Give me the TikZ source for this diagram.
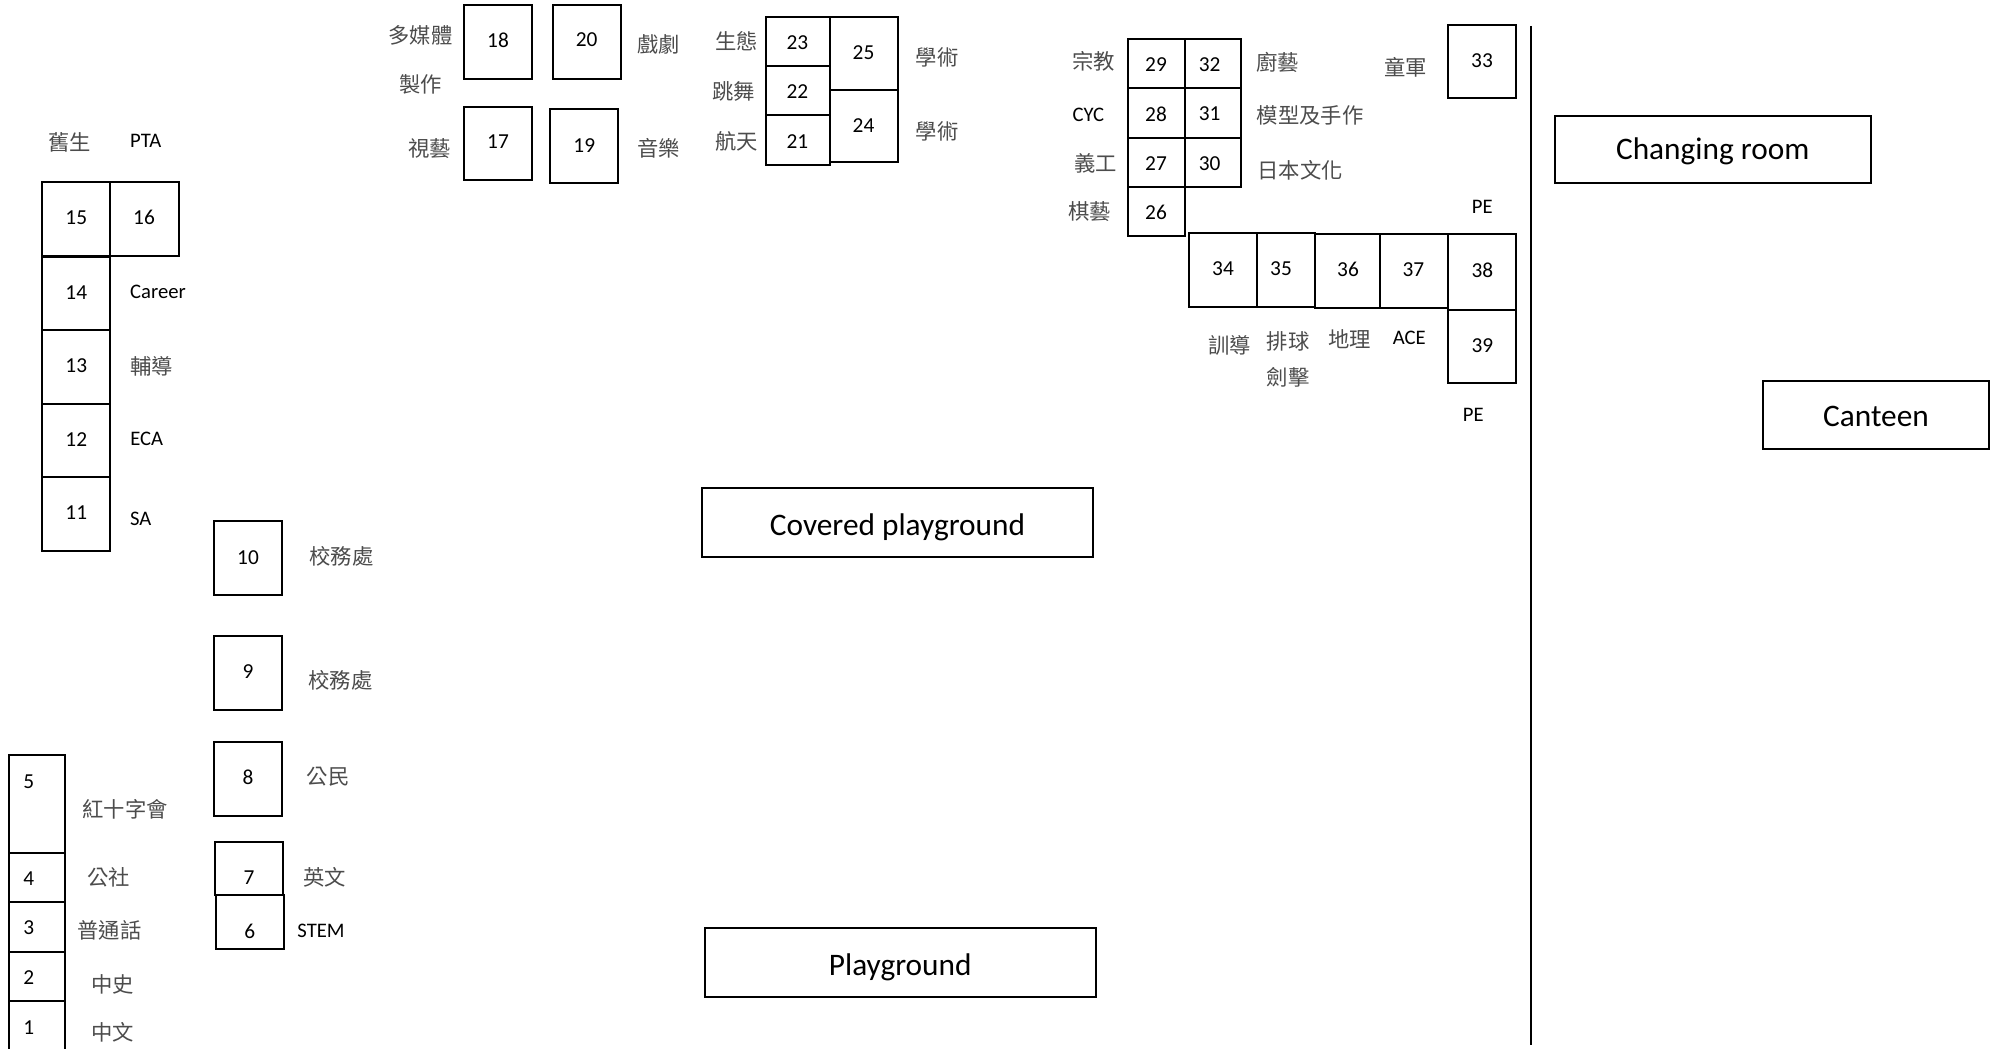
\documentclass[tikz,border=0pt]{standalone}
\usepackage{fontspec}
\setmainfont{Carlito}
\newfontfamily\cjk{Noto Sans CJK TC}[Scale=1]
\newcommand{\roombox}[8]{%
  \node[box,minimum width={(#4-#2)*0.75pt},minimum height={(#5-#3)*0.75pt}] (b#1) at ({(#2+#4)/2},{(#3+#5)/2}) {};
  \node[num] (n#1) at (#7,#8) {#6};}
\newcommand{\zhlabel}[4]{\node[zh] (#1) at (#2,#3) {#4};}
\newcommand{\enlabel}[4]{\node[en] (#1) at (#2,#3) {#4};}
\newcommand{\hall}[7]{%
  \node[box,minimum width={(#3-#1)*0.75pt},minimum height={(#4-#2)*0.75pt}] (#6) at ({(#1+#3)/2},{(#2+#4)/2}) {};
  \node[big] (#6t) at ({(#1+#3)/2},{(#2+#4)/2+#7}) {#5};}
\tikzset{
  box/.style={draw=black,line width=1.5pt,inner sep=0pt,outer sep=0pt,fill=none},
  big/.style={inner sep=0pt,font=\fontsize{23.5}{28}\selectfont,text=black},
  num/.style={inner sep=0pt,font=\fontsize{16}{19}\selectfont,text=black},
  en/.style={inner sep=0pt,font=\fontsize{15.5}{18}\selectfont,text=black},
  zh/.style={inner sep=0pt,font=\cjk\fontsize{16}{19}\selectfont,text=black!70}
}
\begin{document}
\begin{tikzpicture}[x=0.75pt,y=-0.75pt]
\useasboundingbox (0,0) rectangle (2002,1049);
\clip (0,0) rectangle (2002,1049);
\fill[white] (0,0) rectangle (2002,1049);
% left column
\roombox{5}{8.7}{755}{65}{853}{5}{28.7}{781.3}
\roombox{4}{8.7}{853}{65}{901.7}{4}{28.7}{878.7}
\roombox{3}{8.7}{901.7}{65}{951.7}{3}{28.7}{928}
\roombox{2}{8.7}{951.7}{65}{1001}{2}{28.7}{978}
\roombox{1}{8.7}{1001}{65}{1065}{1}{28.7}{1027.3}
\zhlabel{l5}{125}{809.3}{紅十字會}
\zhlabel{l4}{108.7}{877.7}{公社}
\zhlabel{l3}{109.5}{930.3}{普通話}
\zhlabel{l2}{112.5}{984.3}{中史}
\zhlabel{l1}{112.5}{1032.3}{中文}
% 6--10
\roombox{10}{214}{521.3}{282.3}{594.7}{10}{248}{557.5}
\roombox{9}{214}{636}{282.3}{710}{9}{248}{671.5}
\roombox{8}{214}{741.7}{282.3}{815.7}{8}{248}{777.2}
\roombox{7}{215}{842}{283}{895.3}{7}{249}{877.2}
\roombox{6}{215.7}{895.3}{284}{949.3}{6}{249.7}{931.5}
\zhlabel{l10}{341.5}{556.7}{校務處}
\zhlabel{l9}{340.5}{680}{校務處}
\zhlabel{l8}{328}{776.7}{公民}
\zhlabel{l7}{324.5}{877.7}{英文}
\enlabel{l6}{321}{930.5}{STEM}
% 11--16
\roombox{15}{42.3}{181.7}{110}{255.7}{15}{76.3}{217.5}
\roombox{16}{110}{181.7}{178.7}{255.7}{16}{144}{217.5}
\roombox{14}{42.3}{257}{110}{330}{14}{76.3}{292.5}
\roombox{13}{42.3}{330}{110}{403.7}{13}{76.3}{365.5}
\roombox{12}{42.3}{403.7}{110}{477}{12}{76.3}{439.5}
\roombox{11}{42.3}{477}{110}{551}{11}{76.3}{512.5}
\zhlabel{l15}{69.5}{142.7}{舊生}
\enlabel{l16}{145.7}{140.7}{PTA}
\enlabel{l14}{158}{291.7}{Career}
\zhlabel{l13}{151.7}{366.2}{輔導}
\enlabel{l12}{146.7}{438.5}{ECA}
\enlabel{l11}{140.7}{518.5}{SA}
% 17--20
\roombox{18}{464}{4.7}{532}{78.7}{18}{498}{40.3}
\roombox{20}{552.7}{4.7}{620.7}{78.7}{20}{586.7}{39.3}
\roombox{17}{464}{106.7}{532}{180.3}{17}{498}{141.3}
\roombox{19}{550.3}{109.3}{618.3}{183}{19}{584.3}{145.3}
\zhlabel{l18a}{420.6}{35.7}{多媒體}
\zhlabel{l18b}{420.5}{84.3}{製作}
\zhlabel{l17}{429.5}{148.7}{視藝}
\zhlabel{l20}{658.5}{44.3}{戲劇}
\zhlabel{l19}{658.5}{148.3}{音樂}
% 21--25
\roombox{23}{766.2}{17}{829.5}{65.7}{23}{797.4}{42.7}
\roombox{22}{766.2}{65.7}{829.5}{115}{22}{797.4}{91.8}
\roombox{21}{766.2}{115}{829.5}{164.7}{21}{797.4}{141.7}
\roombox{25}{829.5}{17}{897.5}{90}{25}{863.5}{52.7}
\roombox{24}{829.5}{90}{897.5}{162.3}{24}{863.5}{125.7}
\zhlabel{l23}{736.5}{41.3}{生態}
\zhlabel{l22}{733.5}{91.7}{跳舞}
\zhlabel{l21}{736.5}{141.3}{航天}
\zhlabel{l25}{937}{57.3}{學術}
\zhlabel{l24}{937}{131.7}{學術}
% 26--32
\roombox{29}{1128}{39}{1185}{88}{29}{1156}{64.8}
\roombox{28}{1128}{88}{1185}{138}{28}{1156}{113.8}
\roombox{27}{1128}{138}{1185}{186.7}{27}{1156}{163.8}
\roombox{26}{1128}{186.7}{1185}{236}{26}{1156}{212.5}
\roombox{32}{1185}{39}{1241}{88}{32}{1209.7}{64.8}
\roombox{31}{1185}{88}{1241}{138}{31}{1209.7}{113.8}
\roombox{30}{1185}{138}{1241}{186.7}{30}{1209.7}{163.8}
\zhlabel{l29}{1093.5}{61}{宗教}
\enlabel{l28}{1088.3}{114.8}{CYC}
\zhlabel{l27}{1095.8}{163}{義工}
\zhlabel{l26}{1089.5}{211.7}{棋藝}
\zhlabel{l32}{1277.7}{62}{廚藝}
\zhlabel{l31}{1310}{115.7}{模型及手作}
\zhlabel{l30}{1300.2}{170.7}{日本文化}
% 33--39
\roombox{33}{1448.3}{24.7}{1516.3}{98}{33}{1482}{60.8}
\zhlabel{l33}{1405.5}{67.3}{童軍}
\roombox{34}{1188.7}{233.3}{1256.7}{307}{34}{1223}{268.5}
\roombox{35}{1256.7}{233.3}{1315.3}{307}{35}{1281}{268.5}
\roombox{36}{1315.3}{234}{1380}{308}{36}{1348}{269.8}
\roombox{37}{1380}{234}{1448.3}{308}{37}{1413.3}{269.8}
\roombox{38}{1448.3}{234}{1516.3}{310}{38}{1482.3}{269.8}
\roombox{39}{1448.3}{310}{1516.3}{383.3}{39}{1482.3}{345.8}
\enlabel{l38}{1482.3}{206.7}{PE}
\enlabel{l39}{1473.3}{414.8}{PE}
\zhlabel{l34}{1229.5}{345}{訓導}
\zhlabel{l35a}{1288.2}{341}{排球}
\zhlabel{l35b}{1288.2}{377.3}{劍擊}
\zhlabel{l36}{1349.8}{338.7}{地理}
\enlabel{l37}{1409.3}{337.8}{ACE}
% large rooms
\hall{1555}{116}{1870.5}{182.6}{Changing room}{changing}{2}
\hall{1763}{380.5}{1989}{449.4}{Canteen}{canteen}{1.5}
\hall{702}{488}{1093}{557}{Covered playground}{covered}{5}
\hall{705}{928}{1095.5}{997}{Playground}{playground}{4.5}
% divider
\coordinate (divtop) at (1531,26);
\coordinate (divbot) at (1531,1045);
\draw[line width=1.5pt] (divtop) -- (divbot);
\end{tikzpicture}
\end{document}
